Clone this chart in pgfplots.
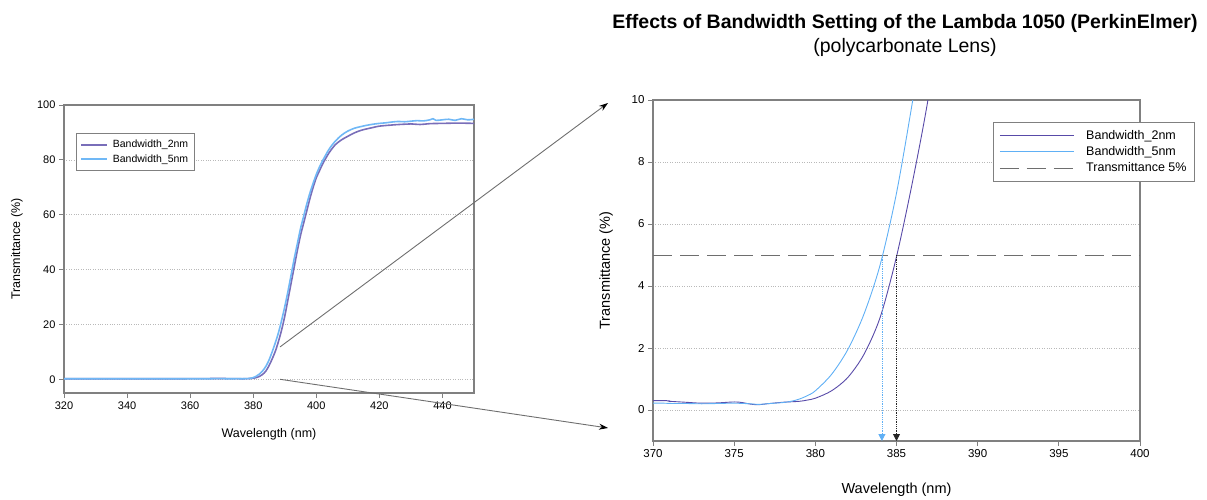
\documentclass[border=0pt]{standalone}
\usepackage{fontspec}
\setmainfont{Liberation Sans}
\usepackage{pgfplots}
\pgfplotsset{compat=1.18}
\usepackage{pgfplotstable}
\usetikzlibrary{arrows.meta}

\definecolor{bwtwo}{RGB}{88,74,168}
\definecolor{bwfive}{RGB}{96,176,245}
\definecolor{axgray}{RGB}{128,128,128}
\definecolor{refgray}{RGB}{110,110,110}

% transmittance, bandwidth 2 nm
\pgfplotstableread{
x y
320 0.20
330 0.20
340 0.20
350 0.20
360 0.22
370 0.30
371 0.28
372 0.25
373 0.22
374 0.23
375 0.26
375.5 0.24
376 0.19
376.5 0.17
377 0.20
378 0.25
379 0.28
379.5 0.32
380 0.38
381 0.62
382 1.05
383 1.80
384 3.00
385 4.95
386 7.40
387 10.2
388 13.8
389 18.0
390 23.0
391 29.0
392 35.0
393 41.0
394 47.0
395 52.5
396 57.0
397 61.5
398 66.0
399 70.0
400 73.5
401 76.0
402 78.5
404 82.5
406 85.5
408 87.3
410 88.6
412 89.8
414 90.7
416 91.3
418 91.8
420 92.3
425 92.8
428 93.0
430 93.1
433 92.9
436 93.2
440 93.3
445 93.4
450 93.3
}\tabtwo

% transmittance, bandwidth 5 nm
\pgfplotstableread{
x y
320 0.20
330 0.20
340 0.20
350 0.20
360 0.20
370 0.22
371 0.21
372 0.21
373 0.20
374 0.21
375 0.22
376 0.20
376.5 0.18
377 0.20
377.5 0.22
378 0.24
378.5 0.28
379 0.35
379.5 0.46
380 0.62
381 1.15
382 1.95
383 3.10
384 4.70
385 7.00
386 10.0
387 13.3
388 17.0
389 21.5
390 26.5
391 32.0
392 38.0
393 44.0
394 49.5
395 55.0
396 59.5
397 64.0
398 68.0
399 71.5
400 74.7
401 77.4
402 79.7
404 83.8
406 86.8
408 89.0
410 90.5
412 91.5
414 92.1
416 92.6
418 93.0
420 93.3
422 93.5
424 93.8
426 94.0
428 93.9
430 94.1
432 94.3
434 94.2
436 94.6
437 95.0
438 94.4
440 94.6
442 94.8
444 94.4
446 95.0
448 94.6
450 94.8
}\tabfive

\pgfplotsset{
  common/.style={
    scale only axis,
    tick pos=left, tick align=outside, major tick length=5pt,
    axis line style={axgray, line width=1.2pt},
    tick style={axgray, line width=1pt},
    ymajorgrids, grid style={gray!55, dotted, line width=0.7pt},
    /pgf/number format/assume math mode=true,
    legend cell align=left,
  },
}

\begin{document}
\begin{tikzpicture}
\useasboundingbox (0,0) rectangle (1207pt,499pt);

% overview
\begin{axis}[common,
  at={(64pt,106pt)}, anchor=south west,
  width=410pt, height=288pt,
  xmin=320, xmax=450, ymin=-5, ymax=100,
  xtick={320,340,...,440}, ytick={0,20,...,100},
  tick label style={font=\fontsize{11}{13}\selectfont},
  label style={font=\fontsize{12.5}{15}\selectfont},
  xlabel={Wavelength (nm)}, ylabel={Transmittance (\%)},
  xlabel style={at={(axis description cs:0.5,-0.142)}, anchor=center},
  ylabel style={at={(axis description cs:-0.115,0.5)}, anchor=center},
  legend style={at={(axis description cs:0.029,0.903)}, anchor=north west,
    draw=axgray, line width=0.8pt, font=\fontsize{10.5}{12}\selectfont,
    inner xsep=4pt, inner ysep=5pt, row sep=1pt},
  legend image code/.code={\draw[#1] (0pt,0pt) -- (26pt,0pt); \path (29pt,0pt);},
]
\addplot[bwtwo!80, line width=1.6pt, smooth] table {\tabtwo};
\addlegendentry{Bandwidth\_2nm\hspace{12pt}}
\addplot[bwfive!90, line width=1.6pt, smooth] table {\tabfive};
\addlegendentry{Bandwidth\_5nm\hspace{12pt}}
\coordinate (p1) at (axis cs:388.5,11.8);
\coordinate (p2) at (axis cs:388.5,0);
\end{axis}

% zoomed view
\begin{axis}[common,
  at={(653pt,58pt)}, anchor=south west,
  width=487pt, height=341pt,
  xmin=370, xmax=400, ymin=-1, ymax=10,
  xtick={370,375,...,400}, ytick={0,2,...,10},
  tick label style={font=\fontsize{11.5}{13}\selectfont},
  label style={font=\fontsize{14.5}{17}\selectfont},
  xlabel={Wavelength (nm)}, ylabel={Transmittance (\%)},
  xlabel style={at={(axis description cs:0.5,-0.144)}, anchor=center},
  ylabel style={at={(axis description cs:-0.0965,0.5)}, anchor=center},
  legend style={at={(axis description cs:0.698,0.935)}, anchor=north west,
    draw=axgray, line width=0.8pt, font=\fontsize{12.5}{14}\selectfont,
    inner xsep=6pt, inner ysep=6pt, row sep=1.5pt},
  legend image code/.code={\draw[#1] (0pt,0pt) -- (74pt,0pt); \path (84pt,0pt);},
]
\addplot[bwtwo, line width=0.9pt, smooth] table {\tabtwo};
\addlegendentry{Bandwidth\_2nm}
\addplot[bwfive, line width=0.9pt, smooth] table {\tabfive};
\addlegendentry{Bandwidth\_5nm}
\addplot[refgray, line width=0.9pt, dash pattern=on 19pt off 8pt] coordinates {(370,5) (400,5)};
\addlegendentry{Transmittance 5\%\hspace{8pt}}
\addplot[bwfive, densely dotted, line width=0.8pt, forget plot,
  -{Triangle[length=7pt,width=7pt]}] coordinates {(384.1,5) (384.1,-1)};
\addplot[black!85, densely dotted, line width=0.8pt, forget plot,
  -{Triangle[length=7pt,width=7pt]}] coordinates {(385,5) (385,-1)};
\end{axis}

\draw[refgray, line width=0.9pt, -{Stealth[length=9pt,width=6pt,black]}] (p1) -- (608pt,396pt);
\draw[refgray, line width=0.9pt, -{Stealth[length=9pt,width=6pt,black]}] (p2) -- (608pt,71pt);

\node[anchor=base, font=\fontsize{19.5}{22}\selectfont\bfseries] at (905pt,470pt)
  {Effects of Bandwidth Setting of the Lambda 1050 (PerkinElmer)};
\node[anchor=base, font=\fontsize{19.5}{22}\selectfont] at (905pt,446pt)
  {(polycarbonate Lens)};
\end{tikzpicture}
\end{document}
